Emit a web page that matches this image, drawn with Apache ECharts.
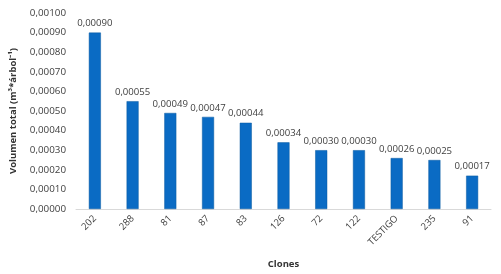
<!DOCTYPE html>
<html>
<head>
<meta charset="utf-8">
<script src="https://cdn.jsdelivr.net/npm/echarts@6/dist/echarts.min.js"></script>
<style>
  html, body { margin: 0; padding: 0; background: #fff; }
  #chart { width: 501px; height: 274px; }
</style>
</head>
<body>
<div id="chart"></div>
<script>
// datos
var clones = ["202", "288", "81", "87", "83", "126", "72", "122", "TESTIGO", "235", "91"];
var volumen = [0.00090, 0.00055, 0.00049, 0.00047, 0.00044, 0.00034, 0.00030, 0.00030, 0.00026, 0.00025, 0.00017];

var chart = echarts.init(document.getElementById("chart"));
var font = "'Open Sans', sans-serif";

chart.setOption({
  animation: false,
  textStyle: { fontFamily: font },
  grid: { left: 76, right: 10, top: 13, bottom: 63 },
  xAxis: {
    type: "category",
    data: clones,
    name: "Clones",
    nameLocation: "middle",
    nameGap: 50,
    nameTextStyle: { fontSize: 9.5, fontWeight: "bold", color: "#333" },
    axisTick: { show: false },
    axisLine: { lineStyle: { color: "#d9d9d9" } },
    axisLabel: { rotate: 45, fontSize: 9.5, color: "#404040", margin: 8 }
  },
  yAxis: {
    type: "value",
    min: 0,
    max: 0.001,
    interval: 0.0001,
    name: "Volumen total (m³*árbol⁻¹)",
    nameLocation: "middle",
    nameRotate: 90,
    nameGap: 58,
    nameTextStyle: { fontSize: 9.5, fontWeight: "bold", color: "#333" },
    splitLine: { show: false },
    axisLine: { show: false },
    axisTick: { show: false },
    axisLabel: {
      fontSize: 9.8,
      color: "#404040",
      margin: 10,
      formatter: function (v) { return v.toFixed(5).replace(".", ","); }
    }
  },
  series: [{
    type: "bar",
    data: volumen,
    barWidth: 12,
    itemStyle: { color: "#0a6bc4", borderColor: "#0a5aa0", borderWidth: 0.5 },
    label: {
      show: true,
      position: "top",
      distance: 4,
      fontSize: 9.6,
      color: "#404040",
      formatter: function (p) { return p.value.toFixed(5).replace(".", ","); }
    }
  }]
});
</script>
</body>
</html>
